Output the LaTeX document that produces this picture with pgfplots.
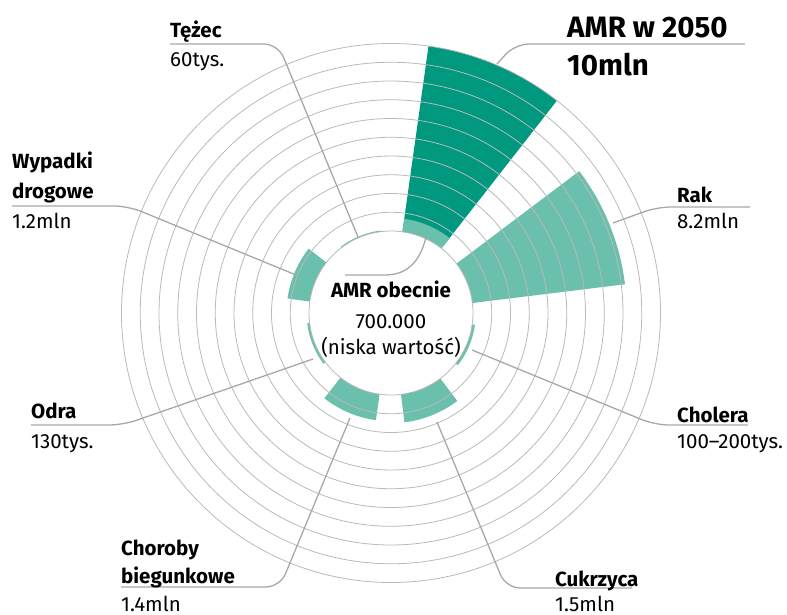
\documentclass[border=0pt]{standalone}
\usepackage{pgfplots}
\pgfplotsset{compat=1.18}
\usepackage{fontspec}
\setmainfont{Fira Sans}
\definecolor{tealD}{RGB}{0,152,127}
\definecolor{tealL}{RGB}{107,192,173}
\definecolor{gridc}{RGB}{185,185,185}
\definecolor{leadc}{RGB}{168,168,168}
\newcommand\rzero{82}
\newcommand\ringw{18.75}
\pgfdeclareplotmark{annsector}{%
  \pgfmathsetmacro\aone{90-\secang-15}%
  \pgfmathsetmacro\atwo{90-\secang+15}%
  \pgfmathsetmacro\rout{\rzero+\secval*\ringw}%
  \pgfpathmoveto{\pgfpointpolar{\aone}{\rzero bp}}%
  \pgfpathlineto{\pgfpointpolar{\aone}{\rout bp}}%
  \pgfpatharc{\aone}{\atwo}{\rout bp}%
  \pgfpathlineto{\pgfpointpolar{\atwo}{\rzero bp}}%
  \pgfpatharc{\atwo}{\aone}{\rzero bp}%
  \pgfpathclose
  \pgfusepathqfill
}
\pgfdeclareplotmark{gridring}{%
  \pgfmathsetmacro\rr{\rzero+\ringk*\ringw}%
  \pgfpathcircle{\pgfpointorigin}{\rr bp}%
  \pgfusepathqstroke
}
\newcommand\lab{\fontsize{20.5bp}{24bp}\selectfont}
\newcommand\biglab{\fontsize{29.5bp}{34bp}\selectfont\bfseries}
\begin{document}
\begin{tikzpicture}
\useasboundingbox (0,0) rectangle (787bp,-615bp);
\begin{axis}[at={(391bp,-313bp)}, anchor=origin, x=18.75bp, y=18.75bp,
  xmin=-1, xmax=1, ymin=-1, ymax=1, hide axis, clip=false]
% AMR w 2050 (dark)
\addplot[only marks, mark=annsector, mark options={fill=tealD, draw=none},
  visualization depends on={\thisrow{ang}\as\secang},
  visualization depends on={\thisrow{val}\as\secval}]
  table[x expr=0, y expr=0]{
ang val
23 10
};
% other causes + AMR obecnie (light)
\addplot[only marks, mark=annsector, mark options={fill=tealL, draw=none},
  visualization depends on={\thisrow{ang}\as\secang},
  visualization depends on={\thisrow{val}\as\secval}]
  table[x expr=0, y expr=0]{
ang val
23 0.7
68 8.2
113 0.15
158 1.5
203 1.4
248 0.13
293 1.2
338 0.06
};
% grid rings
\addplot[only marks, mark=gridring, mark options={draw=gridc, line width=0.8bp, fill=none},
  visualization depends on={\thisrow{k}\as\ringk}]
  table[x expr=0, y expr=0]{
k
0
1
2
3
4
5
6
7
8
9
10
};
\end{axis}
\begin{scope}[x=1bp, y=-1bp]
\begin{scope}[leadc, line width=1.3bp, rounded corners=14bp]
\draw (170,44) -- (278,44) -- (358,237);
\draw (12,206) -- (128,206) -- (296,275);
\draw (31,425) -- (123,425) -- (313,359);
\draw (121,587) -- (280,587) -- (350,418);
\draw (632,588) -- (506,588) -- (437,422);
\draw (748,425) -- (655,425) -- (472,350);
\draw (750,207) -- (657,207) -- (613,223);
\draw (745,44) -- (515,44) -- (497,64);
\end{scope}
\draw[leadc, line width=1.3bp] (345,275) -- (385,275) .. controls (410,275) and (421,258) .. (426,237);
\begin{scope}[every node/.style={anchor=base west, inner sep=0pt}]
\node at (170,37) {\lab\bfseries Tężec};
\node at (170,66) {\lab 60tys.};
\node at (12,168) {\lab\bfseries Wypadki};
\node at (12,198) {\lab\bfseries drogowe};
\node at (12,228) {\lab 1.2mln};
\node at (31,418) {\lab\bfseries Odra};
\node at (31,448) {\lab 130tys.};
\node at (121,555) {\lab\bfseries Choroby};
\node at (121,583) {\lab\bfseries biegunkowe};
\node at (121,611) {\lab 1.4mln};
\node at (555,586) {\lab\bfseries Cukrzyca};
\node at (555,611) {\lab 1.5mln};
\node at (677,422) {\lab\bfseries Cholera};
\node at (677,448) {\lab 100–200tys.};
\node at (677,202) {\lab\bfseries Rak};
\node at (677,228) {\lab 8.2mln};
\node at (567,37) {\biglab AMR w 2050};
\node at (567,75) {\biglab 10mln};
\end{scope}
\begin{scope}[every node/.style={anchor=base, inner sep=0pt}]
\node at (391,297) {\lab\bfseries AMR obecnie};
\node at (391,328) {\lab 700.000};
\node at (391,354) {\lab (niska wartość)};
\end{scope}
\end{scope}
\end{tikzpicture}
\end{document}
